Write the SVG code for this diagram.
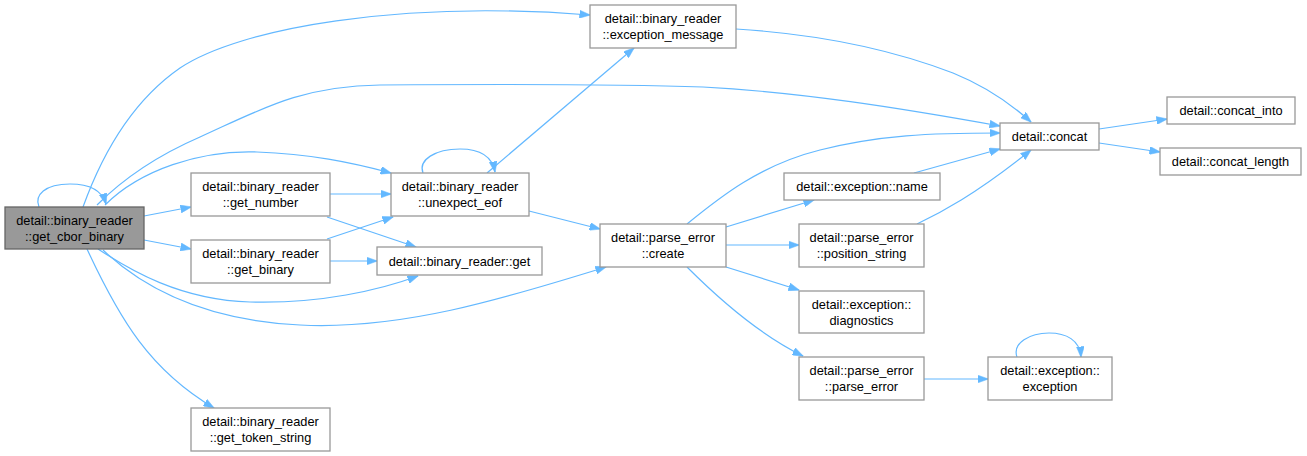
<svg xmlns="http://www.w3.org/2000/svg" width="1307" height="456" viewBox="0 0 1307 456">
<style>
.n rect{fill:#ffffff;stroke:#999999;stroke-width:1.3}
.h rect{fill:#999999;stroke:#666666;stroke-width:1.3}
text{font-family:"Liberation Sans",Arial,sans-serif;font-size:12.8px;fill:#000000;text-anchor:middle}
.e path{fill:none;stroke:#63b8ff;stroke-width:1.2;marker-end:url(#ah)}
</style>
<defs>
<marker id="ah" markerUnits="userSpaceOnUse" markerWidth="11" markerHeight="8" refX="10.5" refY="4" orient="auto" viewBox="0 0 11 8">
<path d="M0,0 L11,4 L0,8 z" fill="#63b8ff" stroke="#63b8ff" stroke-width="0.5"/>
</marker>
</defs>
<rect width="1307" height="456" fill="#ffffff"/>
<g id="edges" class="e">
<path d="M39,207 C34,195 45,184 70,184 C88,184 102,190 106,204"/>
<path d="M83,207 C100,160 128,104 180,68 C240,28 400,0 590,15"/>
<path d="M97,205 C130,172 170,150 200,137 C260,110 300,86 380,85 C520,84 620,84 703,87 C800,92 900,108 1000,126"/>
<path d="M105,205 C140,170 200,150 257,152 C310,154 350,162 391,173"/>
<path d="M144,216 L191,207"/>
<path d="M144,240 L191,249"/>
<path d="M98,249 C130,270 180,300 250,302 C320,304 380,290 418,276"/>
<path d="M103,250 C140,285 200,320 300,325 C400,330 500,300 606,267"/>
<path d="M87,249 C120,320 150,370 214,408"/>
<path d="M330,194 L391,194"/>
<path d="M327,217 L416,247"/>
<path d="M327,239 L393,217"/>
<path d="M330,261 L377,261"/>
<path d="M529,211 L600,229"/>
<path d="M423,173 C418,160 435,149 460,149 C478,149 492,155 495,172"/>
<path d="M487,173 L634,48"/>
<path d="M736,29 C800,33 880,45 953,73 C985,86 1010,103 1031,122"/>
<path d="M687,224 C720,197 760,165 820,150 C880,135 930,133 1000,133"/>
<path d="M914,173 L1000,149"/>
<path d="M917,224 C940,213 975,195 1031,150"/>
<path d="M726,227 L814,200"/>
<path d="M726,245 L799,245"/>
<path d="M726,267 L799,290"/>
<path d="M687,267 C720,300 760,335 803,356"/>
<path d="M924,379 L988,379"/>
<path d="M1017,357 C1012,343 1030,333 1049,333 C1066,333 1080,340 1081,357"/>
<path d="M1099,129 L1167,119"/>
<path d="M1099,143 L1160,152"/>
</g>
<g id="get_cbor_binary" class="h"><rect x="5" y="207" width="139" height="42"/><text x="74.5" y="225">detail::binary_reader</text><text x="74.5" y="241">::get_cbor_binary</text></g>
<g id="get_number" class="n"><rect x="191" y="173" width="139" height="43"/><text x="260.5" y="191">detail::binary_reader</text><text x="260.5" y="207">::get_number</text></g>
<g id="get_binary" class="n"><rect x="191" y="240" width="139" height="43"/><text x="260.5" y="258">detail::binary_reader</text><text x="260.5" y="274">::get_binary</text></g>
<g id="get_token_string" class="n"><rect x="191" y="408" width="139" height="43"/><text x="260.5" y="426">detail::binary_reader</text><text x="260.5" y="442">::get_token_string</text></g>
<g id="unexpect_eof" class="n"><rect x="391" y="173" width="138" height="43"/><text x="460" y="191">detail::binary_reader</text><text x="460" y="207">::unexpect_eof</text></g>
<g id="get" class="n"><rect x="377" y="247" width="165" height="28"/><text x="459.5" y="265.5">detail::binary_reader::get</text></g>
<g id="exception_message" class="n"><rect x="590" y="5" width="146" height="43"/><text x="663" y="23">detail::binary_reader</text><text x="663" y="39">::exception_message</text></g>
<g id="create" class="n"><rect x="600" y="224" width="126" height="43"/><text x="663" y="242">detail::parse_error</text><text x="663" y="258">::create</text></g>
<g id="name" class="n"><rect x="784" y="173" width="156" height="27"/><text x="862" y="191">detail::exception::name</text></g>
<g id="position_string" class="n"><rect x="799" y="224" width="125" height="43"/><text x="861.5" y="242">detail::parse_error</text><text x="861.5" y="258">::position_string</text></g>
<g id="diagnostics" class="n"><rect x="799" y="291" width="125" height="42"/><text x="861.5" y="309">detail::exception::</text><text x="861.5" y="325">diagnostics</text></g>
<g id="parse_error" class="n"><rect x="799" y="357" width="125" height="43"/><text x="861.5" y="375">detail::parse_error</text><text x="861.5" y="391">::parse_error</text></g>
<g id="concat" class="n"><rect x="1000" y="123" width="99" height="27"/><text x="1049.5" y="141">detail::concat</text></g>
<g id="concat_into" class="n"><rect x="1167" y="97" width="128" height="27"/><text x="1231" y="115">detail::concat_into</text></g>
<g id="concat_length" class="n"><rect x="1160" y="148" width="141" height="27"/><text x="1230.5" y="166">detail::concat_length</text></g>
<g id="exception" class="n"><rect x="988" y="357" width="124" height="43"/><text x="1050" y="375">detail::exception::</text><text x="1050" y="391">exception</text></g>
</svg>
